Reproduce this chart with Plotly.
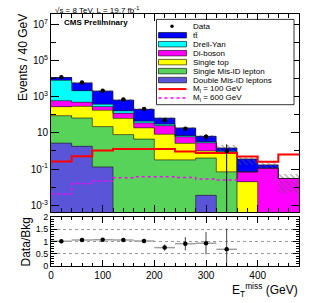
import plotly.graph_objects as go

# ---------------- data ----------------
bin_edges = [0, 40, 80, 120, 160, 200, 240, 280, 320, 360, 400, 440, 480]
bin_centers = [20, 60, 100, 140, 180, 220, 260, 300, 340, 380, 420, 460]

# backgrounds, stacked from bottom to top
double_misid = [2.7, 1.8, 0.13, 0, 0, 0, 0, 0.0035, 0, 0, 0, 0]
single_misid = [86, 64, 22, 8, 4.5, 0.32, 0.32, 0.4, 0.07, 0, 0, 0]
single_top = [191, 224, 156, 55, 14.5, 8.0, 2.3, 0.6, 0.69, 0.02, 0, 0]
diboson = [320, 200, 102, 57, 16, 16.7, 3.4, 1.8, 0.1, 0.049, 0.11, 0.03]
drell_yan = [7400, 1660, 100, 46, 9, 5, 1.0, 0.4, 0.1, 0, 0, 0]
ttbar = [3500, 3650, 1670, 484, 156, 35, 11.7, 3.25, 0.5, 0.29, 0.06, 0]
bkg_unc_frac = [0.06, 0.07, 0.08, 0.10, 0.12, 0.20, 0.18, 0.20, 0.37, 0.55, 0.41, 0.85]

# signals
signal_m100 = [0.26, 0.51, 1.05, 1.29, 1.29, 1.29, 0.93, 0.78, 0.76, 0.50, 0.25, 0.63]
signal_m600 = [0.0041, 0.016, 0.022, 0.033, 0.037, 0.037, 0.034, 0.028, 0.025, 0.025, 0.025, 0.025]

# data
data_x = [20, 60, 100, 140, 180, 220, 260, 300, 340]
data_y = [12000, 6000, 2150, 700, 205, 49, 17, 6, 1]
data_err_up = [110, 77, 46, 26, 14, 7, 4.1, 2.4, 1.3]
data_err_down = [110, 77, 46, 26, 14, 7, 4.1, 2.4, 1.0]

# ratio panel
ratio_y = [1.01, 1.06, 1.07, 1.06, 1.02, 0.75, 0.91, 0.93, 0.68]
ratio_err_up = [0.02, 0.03, 0.04, 0.06, 0.09, 0.13, 0.27, 0.46, 0.85]
ratio_err_down = [0.02, 0.03, 0.04, 0.06, 0.09, 0.13, 0.27, 0.46, 0.68]

y_tick_vals = [1e-3, 1e-1, 1e1, 1e3, 1e5, 1e7]
y_tick_text = ["10<sup>-3</sup>", "10<sup>-1</sup>", "10", "10<sup>3</sup>", "10<sup>5</sup>", "10<sup>7</sup>"]
x_tick_vals = [0, 100, 200, 300, 400]
x_tick_text = ["0", "100", "200", "300", "400"]
r_tick_vals = [0, 0.5, 1, 1.5, 2]
r_tick_text = ["0", "0.5", "1", "1.5", "2"]

# ---------------- styling ----------------
FONT = "Liberation Sans, Arial, Helvetica, sans-serif"
W, H = 316, 303
ML, MR, MT, MB = 51, 17, 9, 37
YLOG_RANGE = [-3.38, 7.57]

layers = [
    ("Double Mis-ID leptons", double_misid, "#5a55d8"),
    ("Single Mis-ID lepton", single_misid, "#58d35a"),
    ("Single top", single_top, "#ffff00"),
    ("Di-boson", diboson, "#ff00ff"),
    ("Drell-Yan", drell_yan, "#00ffff"),
    ("tt\u0304", ttbar, "#0000ff"),
]

# cumulative stack levels
cum_levels = []
running = [0.0] * len(bin_centers)
for name, vals, col in layers:
    running = [a + b for a, b in zip(running, vals)]
    cum_levels.append((name, list(running), col))
total = cum_levels[-1][1]

fig = go.Figure()

# stacked fills (draw top level first, then lower levels over it)
for name, cum, col in reversed(cum_levels):
    fig.add_trace(go.Bar(x=bin_centers, y=cum, width=40, marker=dict(color=col, line=dict(width=0)),
                         xaxis="x", yaxis="y", hoverinfo="skip"))

# uncertainty hatching
fig.add_trace(go.Bar(
    x=bin_centers,
    y=[t * 2 * u for t, u in zip(total, bkg_unc_frac)],
    base=[t * (1 - u) for t, u in zip(total, bkg_unc_frac)],
    width=40,
    marker=dict(color="rgba(0,0,0,0)", line=dict(width=0),
                pattern=dict(shape="\\", fgcolor="#555555", bgcolor="rgba(0,0,0,0)", size=4, solidity=0.3)),
    xaxis="x", yaxis="y", hoverinfo="skip"))

# step outlines of each stack level
floor_val = 10 ** (YLOG_RANGE[0] - 2)
for name, cum, col in cum_levels:
    yv = [c if c > 0 else floor_val for c in cum]
    fig.add_trace(go.Scatter(x=bin_edges, y=yv + [yv[-1]], mode="lines", line=dict(shape="hv", color="#222222", width=0.7),
                             xaxis="x", yaxis="y", hoverinfo="skip"))

# signals
fig.add_trace(go.Scatter(x=bin_edges, y=signal_m100 + [signal_m100[-1]], mode="lines",
                         line=dict(shape="hv", color="#ff0000", width=2), xaxis="x", yaxis="y"))
fig.add_trace(go.Scatter(x=bin_edges, y=signal_m600 + [signal_m600[-1]], mode="lines",
                         line=dict(shape="hv", color="#ff00ff", width=1.5, dash="dot"), xaxis="x", yaxis="y"))

# data
fig.add_trace(go.Scatter(x=data_x, y=data_y, mode="markers",
                         marker=dict(color="black", size=4.5),
                         error_y=dict(type="data", array=data_err_up, arrayminus=data_err_down,
                                      color="black", thickness=1, width=0),
                         xaxis="x", yaxis="y"))

# ratio
fig.add_trace(go.Scatter(x=data_x, y=ratio_y, mode="markers",
                         marker=dict(color="black", size=4.5),
                         error_x=dict(type="constant", value=20, color="#a0a0a0", thickness=1.5, width=0),
                         error_y=dict(type="data", array=ratio_err_up, arrayminus=ratio_err_down,
                                      color="#444444", thickness=1, width=0),
                         xaxis="x2", yaxis="y2"))

main_bottom = (H - MB - 211) / (H - MT - MB)
ratio_top = (H - MB - 216) / (H - MT - MB)

axis_common = dict(showline=True, linecolor="black", linewidth=1, mirror="ticks", ticks="inside",
                   tickcolor="black", zeroline=False)

fig.update_layout(
    width=W, height=H, margin=dict(l=ML, r=MR, t=MT, b=MB),
    paper_bgcolor="white", plot_bgcolor="white", showlegend=False,
    barmode="overlay", bargap=0,
    font=dict(family=FONT, color="black", size=10),
    xaxis=dict(domain=[0, 1], anchor="y", range=[0, 480], tickmode="array", tickvals=x_tick_vals,
               showticklabels=False, ticklen=7, showgrid=False,
               minor=dict(dtick=20, tick0=0, ticklen=4, ticks="inside", tickcolor="black", showgrid=False),
               **axis_common),
    yaxis=dict(domain=[main_bottom, 1], anchor="x", type="log", range=YLOG_RANGE, tickmode="array",
               tickvals=y_tick_vals, ticktext=y_tick_text, ticklen=8, showgrid=False,
               tickfont=dict(size=10),
               minor=dict(tickvals=[1e-2, 1, 1e2, 1e4, 1e6], ticklen=5, ticks="inside", tickcolor="black", showgrid=False),
               **axis_common),
    xaxis2=dict(domain=[0, 1], anchor="y2", range=[0, 480], tickmode="array", tickvals=x_tick_vals,
                ticktext=x_tick_text, ticklen=6, showgrid=False, tickfont=dict(size=10),
                minor=dict(dtick=20, tick0=0, ticklen=3, ticks="inside", tickcolor="black", showgrid=False),
                **axis_common),
    yaxis2=dict(domain=[0, ratio_top], anchor="x2", range=[0, 2], tickmode="array", tickvals=r_tick_vals,
                ticktext=r_tick_text, ticklen=6, tickfont=dict(size=9),
                showgrid=True, gridcolor="#999999", griddash="dot", gridwidth=1,
                minor=dict(dtick=0.1, ticklen=3, ticks="inside", tickcolor="black", showgrid=False),
                **axis_common),
)


def px_x(X):
    return (X - ML) / (W - ML - MR)


def px_y(Y):
    return (H - MB - Y) / (H - MT - MB)


annotations = [
    dict(text="\u221as = 8 TeV, L = 19.7 fb<sup>-1</sup>", x=px_x(53), y=px_y(4.5), xanchor="left", yanchor="middle",
         font=dict(size=8)),
    dict(text="<b>CMS Preliminary</b>", x=px_x(62), y=px_y(17.5), xanchor="left", yanchor="middle",
         font=dict(size=8)),
    dict(text="Events / 40 GeV", textangle=-90, x=px_x(23), y=px_y(54), xanchor="center", yanchor="middle",
         font=dict(size=12)),
    dict(text="Data/Bkg", textangle=-90, x=px_x(26), y=px_y(242), xanchor="center", yanchor="middle",
         font=dict(size=12)),
    dict(text="E<sub>T</sub><sup>miss</sup> (GeV)", x=px_x(300), y=px_y(290), xanchor="right", yanchor="middle",
         font=dict(size=12)),
]

# legend (drawn manually to get ROOT-like compact spacing)
legend_entries = [
    ("Data", "marker", "black"),
    ("tt\u0304", "box", "#0000ff"),
    ("Drell-Yan", "box", "#00ffff"),
    ("Di-boson", "box", "#ff00ff"),
    ("Single top", "box", "#ffff00"),
    ("Single Mis-ID lepton", "box", "#58d35a"),
    ("Double Mis-ID leptons", "box", "#5a55d8"),
    ("M<sub>l</sub> = 100 GeV", "line", "#ff0000"),
    ("M<sub>l</sub> = 600 GeV", "dot", "#ff00ff"),
]

shapes = [dict(type="rect", xref="paper", yref="paper", x0=px_x(156.5), x1=px_x(294), y0=px_y(101.5), y1=px_y(14.5),
               line=dict(color="black", width=0.8), fillcolor="white")]
for i, (label, kind, col) in enumerate(legend_entries):
    yc = 21.5 + 9.15 * i
    if kind == "marker":
        shapes.append(dict(type="circle", xref="paper", yref="paper", x0=px_x(170.3), x1=px_x(173.7),
                           y0=px_y(yc + 1.7), y1=px_y(yc - 1.7), fillcolor="black", line=dict(width=0)))
    elif kind == "box":
        shapes.append(dict(type="rect", xref="paper", yref="paper", x0=px_x(158.5), x1=px_x(186.5),
                           y0=px_y(yc + 2.8), y1=px_y(yc - 2.8), fillcolor=col, line=dict(color="black", width=0.6)))
    else:
        shapes.append(dict(type="line", xref="paper", yref="paper", x0=px_x(158.5), x1=px_x(186.5),
                           y0=px_y(yc), y1=px_y(yc),
                           line=dict(color=col, width=2 if kind == "line" else 1.5, dash="solid" if kind == "line" else "dot")))
    annotations.append(dict(text=label, x=px_x(191), y=px_y(yc), xanchor="left", yanchor="middle",
                            font=dict(size=8)))

for a in annotations:
    a.update(xref="paper", yref="paper", showarrow=False)

fig.update_layout(annotations=annotations, shapes=shapes)
# remove the browser's default 8px page margin so the figure sits at the window's top-left corner
fig.write_html("out.html", config={"displayModeBar": False},
               post_script="document.body.style.margin='0';")
